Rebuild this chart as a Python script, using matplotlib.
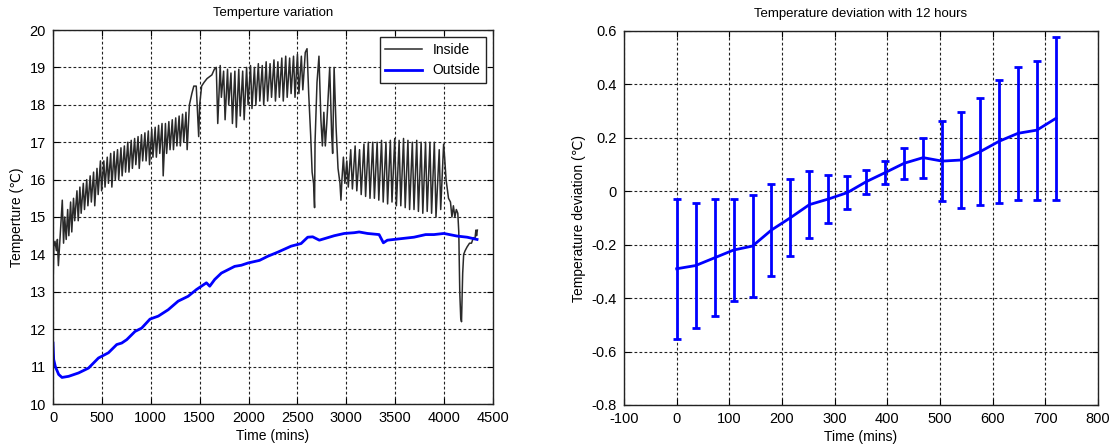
import matplotlib.pyplot as plt
import numpy as np

plt.rcParams['font.family'] = ['Liberation Sans', 'DejaVu Sans']
plt.rcParams['axes.unicode_minus'] = False

# left panel: inside temperature (turning points)
inside_time = [0, 8, 20, 35, 45, 55, 75, 95, 108, 120, 135, 150, 162, 180, 192, 210, 222, 245, 258,
               275, 288, 310, 322, 345, 357, 380, 392, 415, 427, 450, 462, 485, 497, 520, 532, 555,
               567, 590, 602, 625, 637, 660, 672, 695, 707, 730, 742, 765, 777, 800, 812, 835, 847,
               870, 882, 905, 917, 940, 952, 975, 987, 1010, 1022, 1045, 1057, 1080, 1092, 1115,
               1127, 1150, 1162, 1185, 1197, 1220, 1232, 1255, 1267, 1290, 1302, 1325, 1337, 1360,
               1372, 1395,
               1420, 1440, 1465, 1478, 1490, 1500, 1520, 1545, 1575, 1600, 1625, 1650, 1670,
               1685, 1710, 1722, 1745, 1760, 1785, 1797, 1820, 1835, 1860, 1875, 1900, 1915, 1940,
               1955, 1980, 1995, 2020, 2035, 2060, 2075, 2100, 2115, 2140, 2155, 2180, 2195, 2220,
               2235, 2260, 2275, 2300, 2315, 2340, 2355, 2380, 2395, 2420, 2435, 2460, 2475, 2500,
               2515, 2540, 2555, 2580, 2598,
               2615, 2635, 2650, 2665, 2675, 2680, 2700, 2720, 2740, 2755, 2770, 2785, 2800, 2830,
               2850, 2860, 2875, 2895, 2915, 2935, 2945, 2955, 2970, 2985,
               3005, 3020, 3045, 3062, 3090, 3107, 3135, 3152, 3180, 3197, 3225, 3242, 3270, 3287,
               3315, 3332, 3360, 3377, 3405, 3422, 3450, 3467, 3495, 3512, 3540, 3557, 3585, 3602,
               3630, 3647, 3675, 3692, 3720, 3737, 3765, 3782, 3810, 3827, 3855, 3872, 3900, 3917,
               3950, 3965, 3995, 4005,
               4020, 4045, 4065, 4080, 4095, 4110, 4125, 4140, 4150, 4160, 4170, 4178, 4190, 4200,
               4215, 4235, 4260, 4280, 4300, 4315, 4325, 4332, 4340]
inside_temp = [13.1, 14.2, 14.35, 14.1, 14.4, 13.7, 14.6, 15.45, 14.3, 15.0, 14.4, 15.2, 14.5, 15.4,
               14.6, 15.5, 14.9, 15.7, 14.9, 15.8, 15.1, 15.9, 15.2, 16.0, 15.3, 16.1, 15.4, 16.2,
               15.3, 16.3, 15.6, 16.5, 15.7, 16.5, 15.8, 16.6, 15.9, 16.7, 15.8, 16.75, 16.0, 16.8,
               16.0, 16.85, 16.1, 16.9, 16.2, 17.0, 16.2, 17.05, 16.3, 17.1, 16.4, 17.15, 16.3,
               17.2, 16.5, 17.25, 16.5, 17.3, 16.4, 17.35, 16.6, 17.4, 16.6, 17.45, 16.7, 17.5,
               16.1, 17.5, 16.7, 17.55, 16.8, 17.6, 16.8, 17.65, 16.9, 17.7, 16.9, 17.75, 17.0,
               17.8, 16.8, 18.0,
               18.3, 18.5, 18.5, 17.8, 17.15, 18.0, 18.5, 18.6, 18.7, 18.75, 18.8, 18.95, 19.0,
               17.5, 19.05, 18.2, 18.9, 17.6, 18.95, 18.0, 18.85, 17.5, 18.9, 17.4, 18.95, 17.7,
               18.9, 17.6, 19.0, 18.0, 19.05, 17.9, 19.0, 18.0, 19.1, 18.1, 19.05, 18.0, 19.15,
               18.1, 19.1, 18.2, 19.2, 18.1, 19.15, 18.2, 19.25, 18.1, 19.3, 18.2, 19.25, 18.3,
               19.3, 18.2, 19.35, 18.3, 19.3, 18.4, 19.4, 19.5,
               18.3, 17.2, 16.2, 15.9, 15.25, 17.0, 18.6, 19.3, 17.6, 16.9, 17.8, 16.9, 17.5, 19.0,
               17.2, 16.7, 19.0, 17.4, 16.3, 15.9, 15.45, 16.0, 16.6, 15.9,
               16.5, 15.8, 16.8, 15.75, 16.9, 15.7, 16.8, 15.6, 16.95, 15.55, 17.0, 15.5, 17.0,
               15.5, 17.0, 15.45, 17.05, 15.4, 17.0, 15.35, 17.05, 15.4, 17.1, 15.3, 17.05, 15.3,
               17.1, 15.25, 17.05, 15.2, 17.0, 15.2, 17.05, 15.15, 17.0, 15.1, 17.0, 15.15, 17.0,
               15.1, 17.0, 15.0, 16.8, 15.2, 16.95, 16.6,
               16.0, 15.5, 15.4, 15.0, 15.3, 15.0, 15.2, 15.1, 14.6, 13.0, 12.3, 12.2, 13.5, 14.0,
               14.1, 14.2, 14.3, 14.3, 14.45, 14.4, 14.65, 14.5, 14.65]

# left panel: outside temperature
outside_time = [0, 7, 24, 58, 92, 160, 261, 363, 465, 567, 652, 703, 754, 839, 907, 992, 1077, 1178,
                1280, 1382, 1467, 1569, 1603, 1654, 1722, 1858, 1926, 1994, 2112, 2197, 2299, 2435,
                2537, 2605, 2656, 2724, 2775, 2877, 2979, 3080, 3131, 3216, 3335, 3379, 3420, 3556,
                3692, 3811, 3896, 3998, 4133, 4235, 4337]
outside_temp = [11.63, 11.19, 11.0, 10.79, 10.71, 10.74, 10.83, 10.96, 11.23, 11.37, 11.59, 11.63,
                11.72, 11.94, 12.03, 12.27, 12.35, 12.52, 12.75, 12.88, 13.06, 13.24, 13.15, 13.33,
                13.5, 13.68, 13.71, 13.77, 13.84, 13.95, 14.06, 14.22, 14.29, 14.46, 14.47, 14.38,
                14.42, 14.5, 14.56, 14.58, 14.6, 14.56, 14.53, 14.31, 14.38, 14.42, 14.46, 14.53,
                14.53, 14.56, 14.49, 14.46, 14.40]

# right panel: deviation mean and error
dev_time = [0, 36, 72, 108, 144, 180, 216, 252, 288, 324, 360, 396, 432, 468, 504, 540, 576, 612,
            648, 684, 720]
dev_mean = [-0.29, -0.278, -0.249, -0.22, -0.205, -0.145, -0.099, -0.05, -0.029, -0.005, 0.036,
            0.07, 0.105, 0.126, 0.113, 0.117, 0.148, 0.187, 0.217, 0.229, 0.273]
dev_err = [0.262, 0.234, 0.219, 0.19, 0.19, 0.172, 0.145, 0.126, 0.09, 0.062, 0.045, 0.043, 0.058,
           0.075, 0.149, 0.179, 0.2, 0.229, 0.248, 0.26, 0.304]

fig = plt.figure(figsize=(11.13, 4.45), dpi=100)
ax1 = fig.add_axes([53 / 1113, 41 / 445, 440 / 1113, 374 / 445])
ax2 = fig.add_axes([624 / 1113, 40 / 445, 474 / 1113, 374 / 445])


def style(ax):
    ax.grid(True, color='#222222', linestyle=(0, (2.5, 2)), linewidth=0.8)
    ax.set_axisbelow(True)
    ax.tick_params(direction='in', top=True, right=True, labelsize=10.5, length=4, width=0.8,
                   pad=5)
    for s in ax.spines.values():
        s.set_linewidth(1.0)
        s.set_color('#222222')


ax1.plot(inside_time, inside_temp, color='#2a2a2a', linewidth=1.1, label='Inside')
ax1.plot(outside_time, outside_temp, color='#0000ff', linewidth=2.0, label='Outside')
ax1.set_xlim(0, 4500)
ax1.set_ylim(10, 20)
ax1.set_xticks(np.arange(0, 4501, 500))
ax1.set_yticks(np.arange(10, 21, 1))
ax1.set_title('Temperture variation', fontsize=9.5, pad=10)
ax1.set_xlabel('Time (mins)', fontsize=10, labelpad=3)
ax1.set_ylabel('Temperture (℃)', fontsize=10, labelpad=4)
leg = ax1.legend(loc='upper right', fontsize=10, fancybox=False, framealpha=1,
                 edgecolor='#222222', handlelength=2.6, borderaxespad=0.5)
leg.get_frame().set_linewidth(1.0)
style(ax1)

ax2.errorbar(dev_time, dev_mean, yerr=dev_err, color='#0000ff', linewidth=2,
             elinewidth=2, capsize=3, capthick=2)
ax2.set_xlim(-100, 800)
ax2.set_ylim(-0.8, 0.6)
ax2.set_xticks(np.arange(-100, 801, 100))
ax2.set_yticks(np.round(np.arange(-0.8, 0.61, 0.2), 1))
ax2.set_yticklabels(['-0.8', '-0.6', '-0.4', '-0.2', '0', '0.2', '0.4', '0.6'])
ax2.set_title('Temperature deviation with 12 hours', fontsize=9.5, pad=10)
ax2.set_xlabel('Time (mins)', fontsize=10, labelpad=3)
ax2.set_ylabel('Temperature deviation (℃)', fontsize=10, labelpad=4)
style(ax2)

fig.savefig('out.png', dpi=100)
